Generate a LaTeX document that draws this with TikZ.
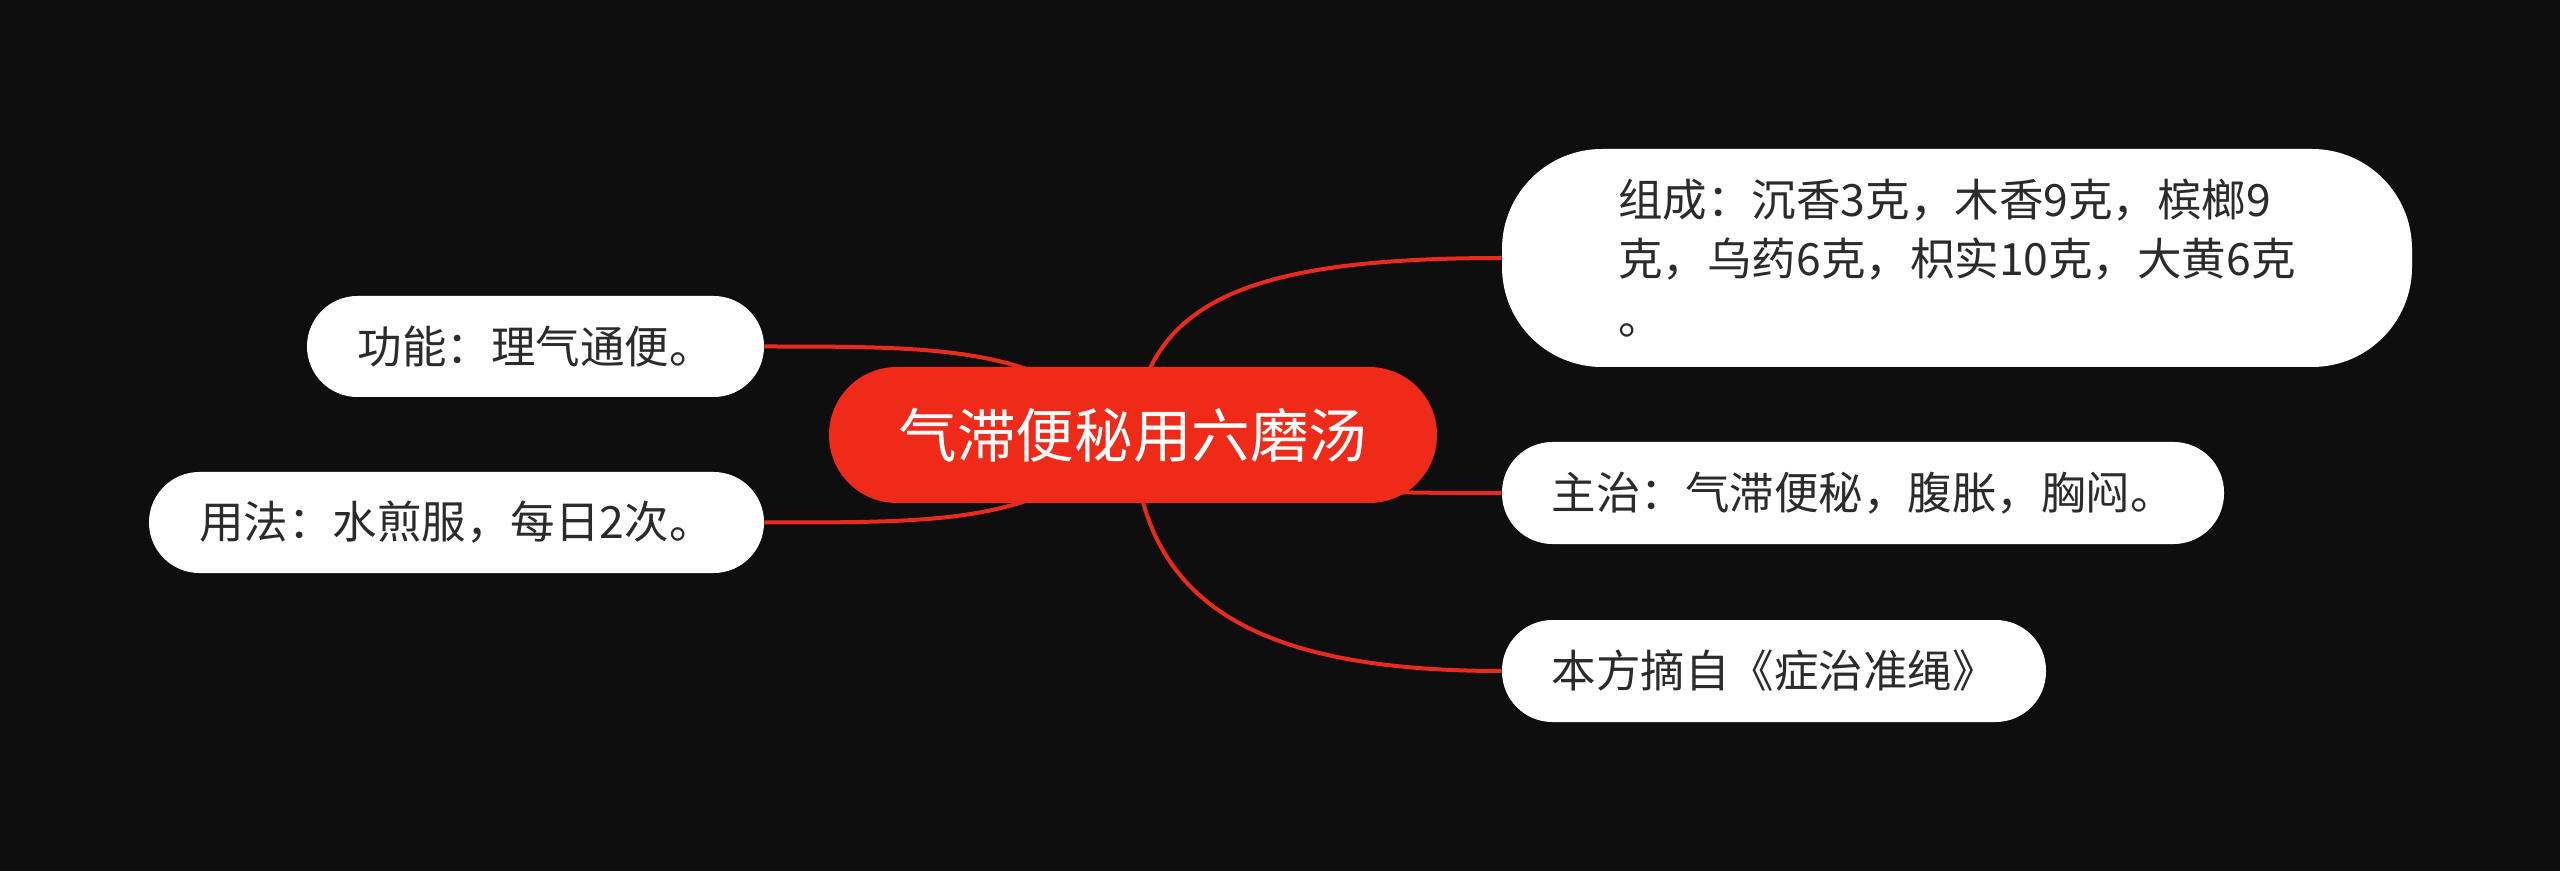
\documentclass[tikz,border=0pt]{standalone}
\usepackage{fontspec}
\newfontfamily\cjk{Noto Sans CJK SC}
\definecolor{bgcol}{HTML}{0E0E0E}
\definecolor{rootred}{HTML}{F02A19}
\definecolor{linered}{HTML}{E92A1C}
\definecolor{leaftext}{HTML}{2B2B2B}
\pgfdeclarelayer{bgl}
\pgfdeclarelayer{edges}
\pgfsetlayers{bgl,edges,main}
\begin{document}
\begin{tikzpicture}[x=0.5pt,y=-0.5pt,
  rootbox/.style={fill=rootred,text=white,rounded corners=33.9pt,minimum width=304pt,minimum height=68pt,inner sep=0pt,font=\cjk\fontsize{29.3}{35}\selectfont},
  leaf/.style={fill=white,text=leaftext,rounded corners=25.2pt,minimum height=50.5pt,inner sep=0pt,font=\cjk\fontsize{22.25}{29.5}\selectfont},
  conn/.style={draw=linered,line width=2pt}]
\useasboundingbox (0,0) rectangle (2560,871);
\begin{pgfonlayer}{bgl}
\fill[bgcol] (0,0) rectangle (2560,871);
\end{pgfonlayer}
\node[rootbox] (root) at (1133,435) {气滞便秘用六磨汤};
\node[leaf,minimum width=455pt,minimum height=109pt,rounded corners=50pt,align=left] (zc) at (1957,258) {组成：沉香3克，木香9克，槟榔9\\克，乌药6克，枳实10克，大黄6克\\。};
\node[leaf,minimum width=361pt,minimum height=51pt] (zz) at (1863,493) {主治：气滞便秘，腹胀，胸闷。};
\node[leaf,minimum width=272pt,minimum height=51pt] (bf) at (1774,671) {本方摘自《症治准绳》};
\node[leaf,minimum width=228.5pt] (gn) at (535.5,346.5) {功能：理气通便。};
\node[leaf,minimum width=307.5pt] (yf) at (456.5,522.5) {用法：水煎服，每日2次。};
\begin{pgfonlayer}{edges}
\draw[conn] (root.center) .. controls +(12,-135) and +(-252,0) .. (zc.west);
\draw[conn] (root.center) .. controls +(97,58) and +(-152,0) .. (zz.west);
\draw[conn] (root.center) .. controls +(7,165) and +(-252,0) .. (bf.west);
\draw[conn] (root.center) .. controls +(-93,-88) and +(186,0) .. (gn.east);
\draw[conn] (root.center) .. controls +(-93,88) and +(186,0) .. (yf.east);
\end{pgfonlayer}
\end{tikzpicture}
\end{document}
